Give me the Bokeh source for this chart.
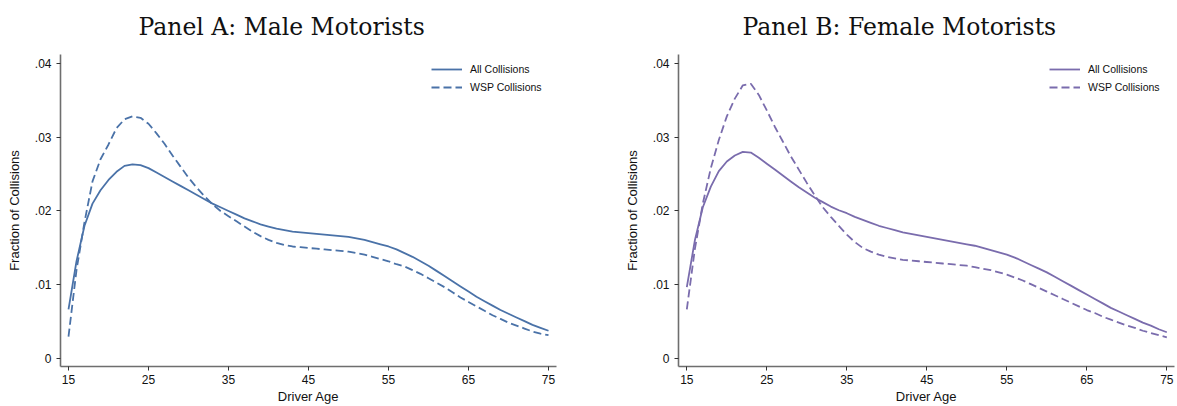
from bokeh.plotting import figure
from bokeh.layouts import row
from bokeh.models import Range1d, FixedTicker, Title
from bokeh.embed import file_html
from bokeh.resources import INLINE

AGES = list(range(15, 76))

MALE_ALL = [.0067, .0132, .0180, .0210, .0228, .0242, .0253, .0261, .0263, .0262,
            .0258, .0252, .0246, .0240, .0234, .0228, .0222, .0216, .0210, .0205,
            .0200, .0195, .0190, .0186, .0182, .0179, .0176, .0174, .0172, .0171,
            .0170, .0169, .0168, .0167, .0166, .0165, .0163, .0161, .0158, .0155,
            .0152, .0148, .0143, .0138, .0132, .0126, .0119, .0112, .0105, .0098,
            .0091, .0084, .0078, .0072, .0066, .0061, .0056, .0051, .0046, .0042,
            .0038]
MALE_WSP = [.0030, .0120, .0185, .0240, .0270, .0290, .0312, .0324, .0328, .0326,
            .0318, .0305, .0291, .0275, .0260, .0245, .0232, .0220, .0209, .0200,
            .0193, .0186, .0179, .0172, .0166, .0161, .0157, .0154, .0152, .0151,
            .0150, .0149, .0148, .0147, .0146, .0145, .0143, .0141, .0138, .0135,
            .0132, .0128, .0125, .0120, .0115, .0109, .0103, .0097, .0090, .0083,
            .0077, .0071, .0065, .0059, .0054, .0049, .0045, .0041, .0037, .0034,
            .0032]
FEMALE_ALL = [.0097, .0160, .0205, .0233, .0254, .0267, .0275, .0280, .0279, .0272, .0264,
              .0256, .0248, .0240, .0232, .0225, .0218, .0212, .0206, .0201, .0197,
              .0192, .0188, .0184, .0180, .0177, .0174, .0171, .0169, .0167, .0165,
              .0163, .0161, .0159, .0157, .0155, .0153, .0150, .0147, .0144, .0141,
              .0137, .0132, .0127, .0122, .0117, .0111, .0105, .0099, .0093, .0087,
              .0081, .0075, .0069, .0064, .0059, .0054, .0049, .0045, .0040, .0036]
FEMALE_WSP = [.0067, .0148, .0210, .0258, .0296, .0328, .0352, .0370, .0372, .0357, .0336,
              .0314, .0294, .0274, .0256, .0238, .0221, .0205, .0192, .0180, .0168,
              .0158, .0150, .0145, .0141, .0138, .0136, .0134, .0133, .0132, .0131,
              .0130, .0129, .0128, .0127, .0126, .0124, .0122, .0120, .0117, .0114,
              .0110, .0106, .0101, .0096, .0091, .0086, .0081, .0076, .0071, .0066,
              .0062, .0057, .0053, .0049, .0045, .0042, .0038, .0035, .0032, .0029]

X_TICKS = [15, 25, 35, 45, 55, 65, 75]
Y_TICKS = [0, 0.01, 0.02, 0.03, 0.04]
Y_TICK_LABELS = ["0", ".01", ".02", ".03", ".04"]
TITLES = ["Panel A: Male Motorists", "Panel B: Female Motorists"]
SERIES_NAMES = ["All Collisions", "WSP Collisions"]
X_LABEL = "Driver Age"
Y_LABEL = "Fraction of Collisions"

SANS = "Liberation Sans"


def make_panel(title, all_vals, wsp_vals, color, width, border_left, frame_w,
               x_start, title_offset):
    border_right = width - border_left - frame_w
    p = figure(width=width, height=406, output_backend="svg", toolbar_location=None,
               x_range=Range1d(x_start, x_start + frame_w / 8.0),
               y_range=Range1d(-0.001035, 0.041169),
               min_border_left=border_left, min_border_right=border_right,
               min_border_top=52, min_border_bottom=40)
    p.title = Title(text=title, text_font="DejaVu Serif", text_font_size="23.5px",
                    text_font_style="normal", text_color="#111111", align="left",
                    vertical_align="top", text_line_height=1.0,
                    offset=title_offset, standoff=24)
    p.outline_line_color = None
    p.xgrid.visible = False
    p.ygrid.visible = False
    p.background_fill_color = "white"
    p.border_fill_color = "white"

    p.line(AGES, all_vals, line_color=color, line_width=1.8, legend_label=SERIES_NAMES[0])
    p.line(AGES, wsp_vals, line_color=color, line_width=1.8, line_dash="8 4",
           legend_label=SERIES_NAMES[1])

    for ax in (p.xaxis[0], p.yaxis[0]):
        ax.axis_line_color = "#6e6e6e"
        ax.axis_line_width = 1.6
        ax.major_tick_line_color = "#333333"
        ax.major_tick_line_width = 1
        ax.major_tick_in = 0
        ax.major_tick_out = 4
        ax.minor_tick_line_color = None
        ax.major_label_text_font = SANS
        ax.major_label_text_font_size = "12px"
        ax.major_label_text_color = "#111111"
        ax.axis_label_text_font = SANS
        ax.axis_label_text_font_size = "13px"
        ax.axis_label_text_font_style = "normal"
        ax.axis_label_text_color = "#111111"

    p.xaxis[0].ticker = FixedTicker(ticks=X_TICKS)
    p.xaxis[0].major_label_standoff = 4
    p.xaxis[0].axis_label = X_LABEL
    p.xaxis[0].axis_label_standoff = 2

    p.yaxis[0].ticker = FixedTicker(ticks=Y_TICKS)
    p.yaxis[0].major_label_overrides = {t: l for t, l in zip(Y_TICKS, Y_TICK_LABELS)}
    p.yaxis[0].major_label_orientation = "horizontal"
    p.yaxis[0].major_label_standoff = 5
    p.yaxis[0].axis_label = Y_LABEL
    p.yaxis[0].axis_label_standoff = 10

    lg = p.legend[0]
    lg.location = (371, 270)
    lg.border_line_color = None
    lg.background_fill_alpha = 0
    lg.padding = 0
    lg.margin = 0
    lg.spacing = 0
    lg.glyph_width = 31
    lg.glyph_height = 18
    lg.label_height = 18
    lg.label_standoff = 8
    lg.label_text_font = SANS
    lg.label_text_font_size = "10.5px"
    lg.label_text_color = "#111111"
    return p


left = make_panel(TITLES[0], MALE_ALL, MALE_WSP, "#4a72a8", 617, 60, 496, 14.0, 78)
right = make_panel(TITLES[1], FEMALE_ALL, FEMALE_WSP, "#7a6cad", 560, 61, 496, 13.96, 64)

layout = row(left, right)
open("out.html", "w").write(file_html(layout, INLINE))
